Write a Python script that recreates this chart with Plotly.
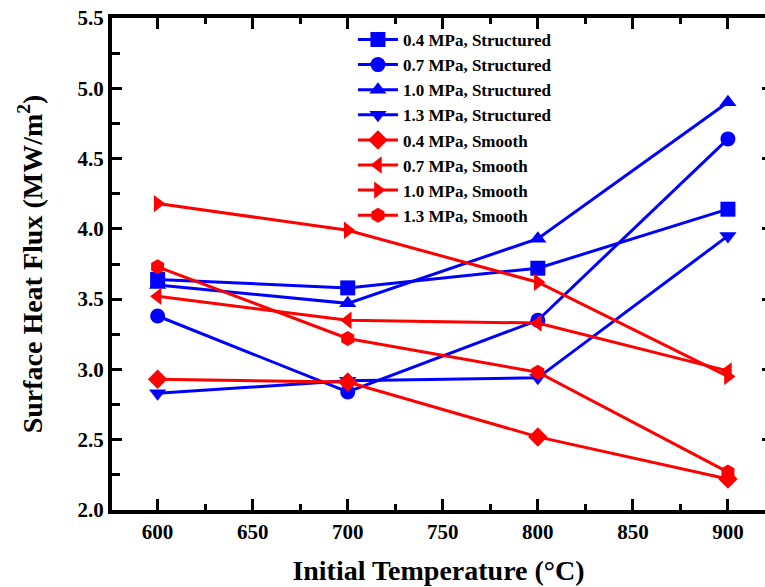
import plotly.graph_objects as go

temps = [600, 700, 800, 900]

labels = [
    "0.4 MPa, Structured", "0.7 MPa, Structured", "1.0 MPa, Structured", "1.3 MPa, Structured",
    "0.4 MPa, Smooth", "0.7 MPa, Smooth", "1.0 MPa, Smooth", "1.3 MPa, Smooth",
]
str_04 = [3.64, 3.58, 3.72, 4.14]
str_07 = [3.38, 2.84, 3.35, 4.64]
str_10 = [3.60, 3.47, 3.93, 4.90]
str_13 = [2.83, 2.92, 2.94, 3.95]
smo_04 = [2.93, 2.91, 2.52, 2.22]
smo_07 = [3.52, 3.35, 3.33, 2.99]
smo_10 = [4.18, 3.99, 3.62, 2.95]
smo_13 = [3.73, 3.22, 2.98, 2.27]

series = [str_04, str_07, str_10, str_13, smo_04, smo_07, smo_10, smo_13]
symbols = ["square", "circle", "triangle-up", "triangle-down",
           "diamond", "triangle-left", "triangle-right", "hexagon"]
colors = ["#0000FF"] * 4 + ["#FF0000"] * 4

FONT = "Liberation Serif"

fig = go.Figure()
for name, ys, sym, col in zip(labels, series, symbols, colors):
    fig.add_trace(go.Scatter(
        x=temps, y=ys, name=f"<b>{name}</b>", mode="lines+markers",
        line=dict(color=col, width=3),
        marker=dict(symbol=sym, size=15, color=col),
    ))

# invisible trace on y2 for right-side tick stubs
fig.add_trace(go.Scatter(x=[600], y=[3], yaxis="y2", showlegend=False,
                         mode="markers", marker=dict(opacity=0), hoverinfo="skip"))

fig.update_layout(
    width=765, height=587,
    margin=dict(l=112, r=0, t=18, b=77),
    paper_bgcolor="white", plot_bgcolor="white",
    font=dict(family=FONT, color="black"),
    showlegend=True,
    legend=dict(
        x=0.369, y=0.992, xanchor="left", yanchor="top",
        bgcolor="rgba(0,0,0,0)", borderwidth=0,
        font=dict(family=FONT, size=17, color="black"),
        tracegroupgap=0, itemwidth=40,
    ),
    xaxis=dict(
        range=[576, 919.5],
        tickvals=[600, 650, 700, 750, 800, 850, 900],
        ticktext=["<b>600</b>", "<b>650</b>", "<b>700</b>", "<b>750</b>",
                  "<b>800</b>", "<b>850</b>", "<b>900</b>"],
        ticks="inside", ticklen=11, tickwidth=3, tickcolor="black",
        minor=dict(tickvals=[625, 675, 725, 775, 825, 875], ticks="inside",
                   ticklen=6, tickwidth=3, tickcolor="black"),
        showline=True, linewidth=4, linecolor="black", mirror="ticks",
        showgrid=False, zeroline=False,
        tickfont=dict(family=FONT, size=21, color="black"),
        title=dict(text="<b>Initial Temperature (°C)</b>",
                   font=dict(family=FONT, size=28, color="black"), standoff=18),
    ),
    yaxis=dict(
        range=[2.0, 5.5],
        tickvals=[2.0, 2.5, 3.0, 3.5, 4.0, 4.5, 5.0, 5.5],
        ticktext=["<b>2.0</b>", "<b>2.5</b>", "<b>3.0</b>", "<b>3.5</b>",
                  "<b>4.0</b>", "<b>4.5</b>", "<b>5.0</b>", "<b>5.5</b>"],
        ticks="inside", ticklen=10, tickwidth=3, tickcolor="black",
        minor=dict(tickvals=[2.25, 2.75, 3.25, 3.75, 4.25, 4.75, 5.25], ticks="inside",
                   ticklen=8, tickwidth=3, tickcolor="black"),
        showline=True, linewidth=4, linecolor="black", mirror=False,
        showgrid=False, zeroline=False,
        tickfont=dict(family=FONT, size=21, color="black"),
        title=dict(text="<b>Surface Heat Flux (MW/m<sup>2</sup>)</b>",
                   font=dict(family=FONT, size=28, color="black"), standoff=28),
    ),
    yaxis2=dict(
        range=[2.0, 5.5], overlaying="y", side="right",
        tickvals=[2.5, 3.0, 3.5, 4.0, 4.5, 5.0],
        ticks="inside", ticklen=3, tickwidth=3, tickcolor="black",
        showticklabels=False, showline=False, showgrid=False, zeroline=False,
    ),
)

fig.write_html("out.html")
